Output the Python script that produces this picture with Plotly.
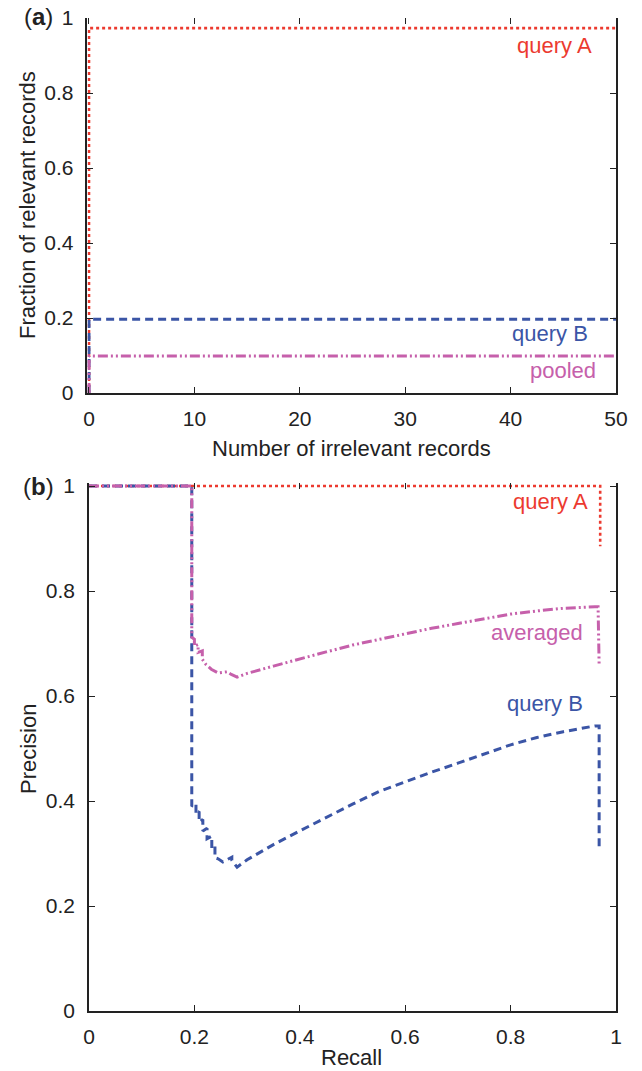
import plotly.graph_objects as go

# ---------------- data ----------------
# panel (a)
irr_x = [0, 0, 50]
a_queryA = [0, 0.973, 0.973]
a_queryB = [0, 0.197, 0.197]
a_pooled = [0, 0.099, 0.099]
a_xticks = [0, 10, 20, 30, 40, 50]

# panel (b)
recall_A = [0, 0.97, 0.97]
prec_A = [1, 1, 0.885]

recall_B = [0, 0.195, 0.195, 0.203, 0.203, 0.209, 0.209, 0.216, 0.216, 0.224, 0.224,
            0.233, 0.233, 0.239, 0.239, 0.245, 0.254, 0.262, 0.271, 0.271, 0.281,
            0.30, 0.35, 0.40, 0.45, 0.50, 0.55, 0.60, 0.65, 0.70, 0.75, 0.80, 0.85,
            0.90, 0.96, 0.968, 0.968]
prec_B = [1, 1, 0.39, 0.395, 0.375, 0.38, 0.36, 0.365, 0.343, 0.348, 0.328,
          0.333, 0.31, 0.315, 0.292, 0.29, 0.284, 0.288, 0.293, 0.287, 0.274,
          0.288, 0.317, 0.343, 0.369, 0.394, 0.418, 0.437, 0.455, 0.472, 0.489, 0.507, 0.521,
          0.532, 0.543, 0.543, 0.307]

recall_avg = [0, 0.195, 0.195, 0.2, 0.2, 0.207, 0.207, 0.215, 0.215, 0.222, 0.232,
              0.245, 0.262, 0.27, 0.281, 0.30, 0.35, 0.40, 0.45, 0.50, 0.55, 0.60, 0.65,
              0.70, 0.75, 0.80, 0.85, 0.90, 0.96, 0.966, 0.968]
prec_avg = [1, 1, 0.712, 0.708, 0.695, 0.698, 0.683, 0.686, 0.67, 0.66, 0.651,
            0.644, 0.646, 0.641, 0.636, 0.643, 0.657, 0.671, 0.684, 0.697, 0.708, 0.719, 0.729,
            0.738, 0.747, 0.756, 0.762, 0.767, 0.770, 0.770, 0.659]
b_xticks = [0, 0.2, 0.4, 0.6, 0.8, 1]
y_ticks = [0, 0.2, 0.4, 0.6, 0.8, 1]

RED = "#ec3a2f"
BLUE = "#3b55a6"
PINK = "#c660ab"
FONT = "Liberation Sans, Arial, sans-serif"
AX = "#222222"

dashB = "8px,5px"
dashP = "10px,3px,2px,3px,2px,3px"

fig = go.Figure()
# panel a
fig.add_trace(go.Scatter(x=irr_x, y=a_queryA, mode="lines", line=dict(color=RED, width=2.6, dash="dot"), xaxis="x", yaxis="y"))
fig.add_trace(go.Scatter(x=irr_x, y=a_queryB, mode="lines", line=dict(color=BLUE, width=3, dash=dashB), xaxis="x", yaxis="y"))
fig.add_trace(go.Scatter(x=irr_x, y=a_pooled, mode="lines", line=dict(color=PINK, width=3, dash=dashP), xaxis="x", yaxis="y"))
# panel b
fig.add_trace(go.Scatter(x=recall_A, y=prec_A, mode="lines", line=dict(color=RED, width=2.6, dash="dot"), xaxis="x2", yaxis="y2"))
fig.add_trace(go.Scatter(x=recall_B, y=prec_B, mode="lines", line=dict(color=BLUE, width=3, dash=dashB), xaxis="x2", yaxis="y2"))
fig.add_trace(go.Scatter(x=recall_avg, y=prec_avg, mode="lines", line=dict(color=PINK, width=3, dash=dashP), xaxis="x2", yaxis="y2"))

W, H = 642, 1071

def px(x):
    return x / W

def py(y):
    return 1 - y / H

X0, X1 = 89, 616
# panel a: slightly negative x so the x=0 lines are not clipped
xa_min = -0.15
pxa = (X1 - X0) / 50
xa_dom = [px(X0 + xa_min * pxa), px(X1)]
ya_dom = [py(393), py(18)]
# panel b: slightly above 1 so the precision=1 lines are not clipped
yb_max = 1.006
pyb = (1011 - 486) / 1.0
yb_dom = [py(1011), py(1011 - yb_max * pyb)]
xb_dom = [px(X0), px(X1)]

tickf = dict(family=FONT, size=21, color=AX)

def xax(rng, ticks, anchor, domain):
    return dict(domain=domain, range=rng, tickvals=ticks, anchor=anchor, showline=True,
                linecolor=AX, linewidth=1.5, ticks="inside", ticklen=6, tickcolor=AX,
                tickwidth=1.2, mirror=False, showgrid=False, zeroline=False,
                tickfont=tickf, automargin=False, ticklabelstandoff=6,
                ticklabeloverflow="allow")

def topax(rng, ticks, overlay, anchor, domain):
    return dict(domain=domain, range=rng, tickvals=ticks, overlaying=overlay, anchor=anchor,
                side="top", showline=False, ticks="inside", ticklen=6, tickcolor=AX,
                tickwidth=1.2, showticklabels=False, showgrid=False, zeroline=False,
                automargin=False)

def yax(domain, anchor, rng):
    return dict(domain=domain, range=rng, tickvals=y_ticks, anchor=anchor, showline=True,
                linecolor=AX, linewidth=1.5, ticks="inside", ticklen=6, tickcolor=AX,
                tickwidth=1.2, mirror="ticks", showgrid=False, zeroline=False,
                tickfont=tickf, automargin=False, ticklabelstandoff=8,
                ticklabeloverflow="allow")

fig.update_layout(
    width=W, height=H, margin=dict(l=0, r=0, t=0, b=0),
    paper_bgcolor="white", plot_bgcolor="white", showlegend=False,
    xaxis=xax([xa_min, 50], a_xticks, "y", xa_dom),
    yaxis=yax(ya_dom, "x", [0, 1]),
    xaxis2=xax([0, 1], b_xticks, "y2", xb_dom),
    yaxis2=yax(yb_dom, "x2", [0, yb_max]),
    xaxis3=topax([xa_min, 50], a_xticks, "x", "y", xa_dom),
    xaxis4=topax([0, 1], b_xticks, "x2", "y2", xb_dom),
)
# dummy traces so the top axes are rendered
fig.add_trace(go.Scatter(x=[None], y=[None], xaxis="x3", yaxis="y", showlegend=False))
fig.add_trace(go.Scatter(x=[None], y=[None], xaxis="x4", yaxis="y2", showlegend=False))

lab = dict(family=FONT, size=22)
anns = [
    dict(text="query A", x=44.2, y=0.928, xref="x", yref="y", font=dict(lab, color=RED)),
    dict(text="query B", x=43.7, y=0.16, xref="x", yref="y", font=dict(lab, color=BLUE)),
    dict(text="pooled", x=45.0, y=0.059, xref="x", yref="y", font=dict(lab, color=PINK)),
    dict(text="query A", x=0.875, y=0.971, xref="x2", yref="y2", font=dict(lab, color=RED)),
    dict(text="averaged", x=0.85, y=0.721, xref="x2", yref="y2", font=dict(lab, color=PINK)),
    dict(text="query B", x=0.865, y=0.585, xref="x2", yref="y2", font=dict(lab, color=BLUE)),
    dict(text="(<b>a</b>)", x=px(38), y=py(17), xref="paper", yref="paper", font=dict(family=FONT, size=24, color=AX)),
    dict(text="(<b>b</b>)", x=px(38), y=py(487), xref="paper", yref="paper", font=dict(family=FONT, size=24, color=AX)),
    dict(text="Number of irrelevant records", x=px(352), y=py(448), xref="paper", yref="paper", font=dict(lab, color=AX)),
    dict(text="Recall", x=px(352), y=py(1057), xref="paper", yref="paper", font=dict(lab, color=AX)),
    dict(text="Fraction of relevant records", x=px(28), y=py(205), xref="paper", yref="paper", textangle=-90, font=dict(lab, color=AX)),
    dict(text="Precision", x=px(28), y=py(749), xref="paper", yref="paper", textangle=-90, font=dict(lab, color=AX)),
]
for a in anns:
    a.update(showarrow=False, xanchor="center", yanchor="middle")
fig.update_layout(annotations=anns)

# remove the page's default 8px body margin so the figure fills the window exactly
fig.write_html("out.html", config={"displayModeBar": False},
               post_script="document.body.style.margin='0px'; document.body.style.overflow='hidden';")
